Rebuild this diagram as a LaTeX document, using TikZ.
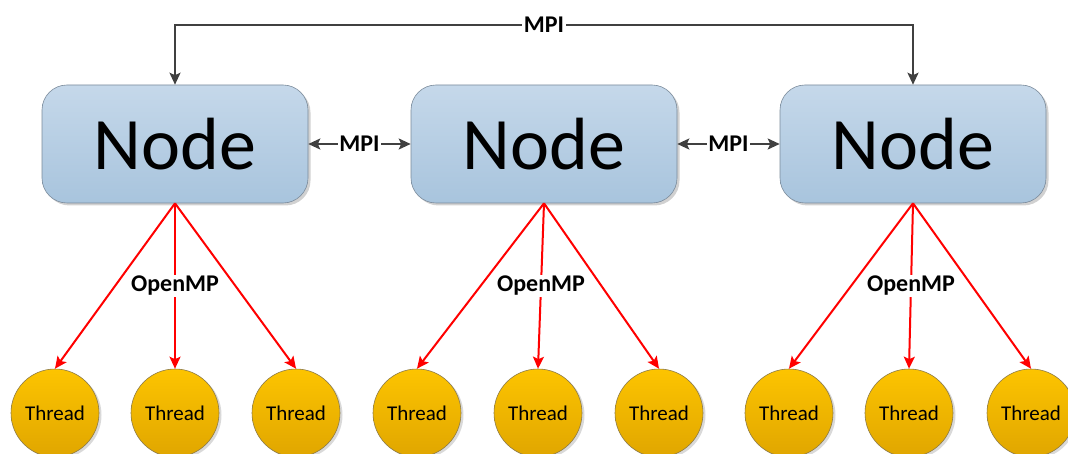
\documentclass[tikz,border=0pt]{standalone}
\usepackage{fontspec}
\setmainfont{Carlito}
\usetikzlibrary{arrows.meta,shadows}
\definecolor{boxtop}{HTML}{C5D8EA}
\definecolor{boxbot}{HTML}{A8C4DD}
\definecolor{boxline}{HTML}{7A8A9A}
\definecolor{thrtop}{HTML}{FDC400}
\definecolor{thrbot}{HTML}{E0A600}
\definecolor{thrline}{HTML}{8C7A48}
\definecolor{mpigray}{HTML}{404040}
\tikzset{
  hostbox/.style={draw=boxline, line width=0.6pt, rounded corners=25pt,
    top color=boxtop, bottom color=boxbot,
    minimum width=266pt, minimum height=118pt, inner sep=0pt,
    drop shadow={shadow xshift=2.5pt, shadow yshift=-2.5pt, opacity=0.18, fill=black},
    font=\fontsize{74}{74}\selectfont},
  thread/.style={circle, draw=thrline, line width=0.6pt,
    top color=thrtop, bottom color=thrbot,
    minimum size=88pt, inner sep=0pt,
    drop shadow={shadow xshift=2.5pt, shadow yshift=-2pt, opacity=0.15, fill=black},
    font=\fontsize{21}{21}\selectfont},
  mpi/.style={draw=mpigray, line width=2pt,
    arrows={Stealth[length=12pt,width=11pt,inset=2.5pt]-Stealth[length=12pt,width=11pt,inset=2.5pt]}},
  omp/.style={draw=red, line width=2pt,
    -{Stealth[length=12pt,width=11pt,inset=2.5pt]}},
  tag/.style={fill=white, inner sep=1.5pt, font=\bfseries\fontsize{24}{24}\selectfont}
}
\begin{document}
\begin{tikzpicture}[x=1pt,y=-1pt]
  \useasboundingbox (0,0) rectangle (1068,454);

  % compute hosts
  \node[hostbox] (n1) at (175,144) {Node};
  \node[hostbox] (n2) at (544,144) {Node};
  \node[hostbox] (n3) at (913,144) {Node};

  % threads of each host
  \foreach \h/\xa/\xb/\xc in {1/55/175/296, 2/417/538/659, 3/789/909/1031}{
    \node[thread] (t\h a) at (\xa,413) {Thread};
    \node[thread] (t\h b) at (\xb,413) {Thread};
    \node[thread] (t\h c) at (\xc,413) {Thread};
  }

  % MPI links between hosts
  \coordinate (top) at (0,25);
  \draw[mpi] (n1.north) -- (n1.north |- top)
    -- node[tag] {MPI} (n3.north |- top) -- (n3.north);
  \draw[mpi] (n1.east) -- node[tag] {MPI} (n2.west);
  \draw[mpi] (n2.east) -- node[tag] {MPI} (n3.west);

  % OpenMP fork from each host to its threads
  \foreach \h in {1,2,3}{
    \draw[omp] (n\h.south) -- (t\h a.north);
    \draw[omp] (n\h.south) -- (t\h c.north);
    \draw[omp] (n\h.south) -- node[tag] {OpenMP} (t\h b.north);
  }
\end{tikzpicture}
\end{document}
